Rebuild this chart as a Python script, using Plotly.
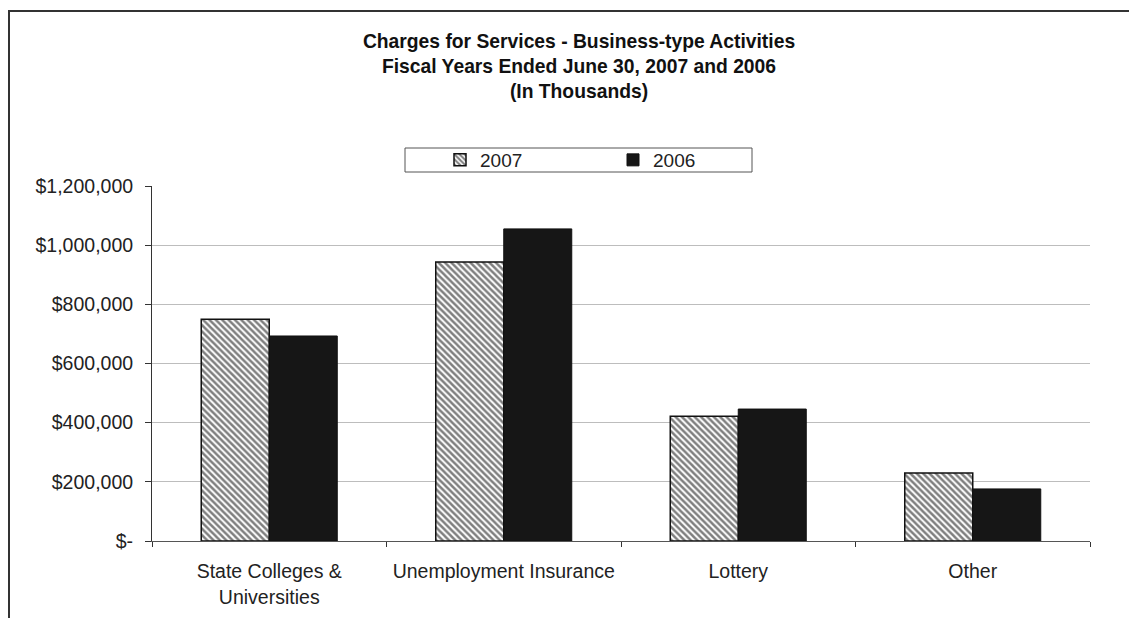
import plotly.graph_objects as go

categories = ["State Colleges &<br>Universities", "Unemployment Insurance", "Lottery", "Other"]
values_2007 = [750000, 943000, 422000, 230000]
values_2006 = [693000, 1055000, 446000, 176000]
tick_vals = [0, 200000, 400000, 600000, 800000, 1000000, 1200000]
tick_text = ["$-", "$200,000", "$400,000", "$600,000", "$800,000", "$1,000,000", "$1,200,000"]
title_lines = ["Charges for Services - Business-type Activities",
               "Fiscal Years Ended June 30, 2007 and 2006",
               "(In Thousands)"]

OFF = 8  # page body margin
W, H = 1137 - OFF, 618 - OFF
L, R, T, B = 152 - OFF, 1090 - OFF, 186 - OFF, 541 - OFF


def px(x):
    # x in reference screen pixels -> paper
    return (x - OFF - L) / (R - L)


def py(y):
    return (B - (y - OFF)) / (B - T)


fig = go.Figure()
fig.add_trace(go.Bar(
    name="2007", x=categories, y=values_2007,
    marker=dict(color="white", line=dict(color="#111", width=1.5),
                pattern=dict(shape="\\", fgcolor="#000", bgcolor="white", size=4.5, solidity=0.55)),
))
fig.add_trace(go.Bar(
    name="2006", x=categories, y=values_2006,
    marker=dict(color="#161616", line=dict(color="#111", width=1)),
))

fig.update_layout(
    width=W, height=H,
    margin=dict(l=L, r=W - R, t=T, b=H - B, autoexpand=False),
    paper_bgcolor="white", plot_bgcolor="white",
    barmode="group", bargap=0.42, bargroupgap=0,
    font=dict(family="Liberation Sans, Arial, sans-serif", size=19, color="#222"),
    title=dict(text="<b>" + "<br>".join(title_lines) + "</b>",
               x=px(579), xref="paper", xanchor="center",
               y=1 - (48 - OFF) / H, yanchor="top",
               font=dict(size=19.3, color="#111")),
    showlegend=True,
    legend=dict(orientation="h", x=px(440), xanchor="left", y=py(160), yanchor="middle",
                xref="paper", yref="paper",
                entrywidth=128, entrywidthmode="pixels",
                bgcolor="rgba(0,0,0,0)", borderwidth=0,
                font=dict(size=19, color="#222")),
)

fig.update_yaxes(range=[0, 1200000], tickvals=tick_vals, ticktext=tick_text,
                 showgrid=True, gridcolor="#bdbdbd", gridwidth=1,
                 showline=True, linecolor="#333", linewidth=1,
                 ticks="outside", ticklen=6, tickcolor="#333",
                 ticklabelstandoff=8, automargin=False,
                 zeroline=False, tickfont=dict(size=19.5, color="#222"))
fig.update_xaxes(showline=True, linecolor="#555", linewidth=1,
                 ticks="outside", ticklen=5, tickcolor="#333",
                 tickson="boundaries", ticklabelstandoff=13, automargin=False,
                 tickfont=dict(size=19.5, color="#222"))

shapes = [
    # outer border (top and left)
    dict(type="line", xref="paper", yref="paper", x0=px(8), x1=px(1137), y0=py(11), y1=py(11),
         line=dict(color="#333", width=2)),
    dict(type="line", xref="paper", yref="paper", x0=px(9), x1=px(9), y0=py(11), y1=py(618),
         line=dict(color="#333", width=2)),
    # legend box
    dict(type="rect", xref="paper", yref="paper", x0=px(405), x1=px(752), y0=py(148), y1=py(172),
         line=dict(color="#555", width=1), fillcolor="rgba(0,0,0,0)", layer="below"),
]
fig.update_layout(shapes=shapes)

fig.write_html("out.html")
